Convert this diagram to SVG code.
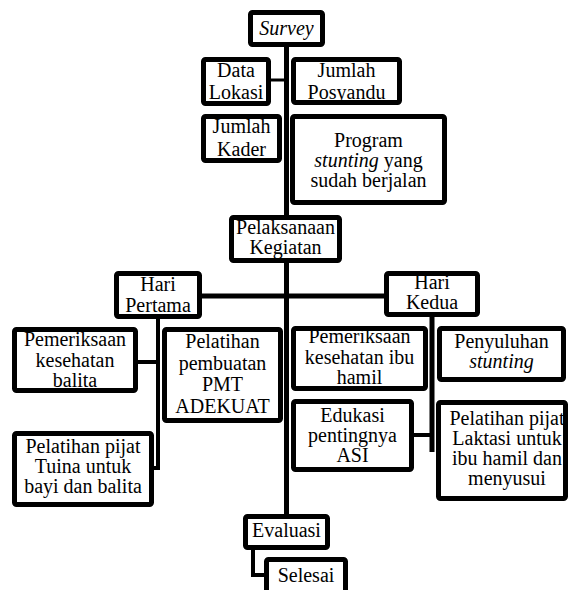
<svg xmlns="http://www.w3.org/2000/svg" width="568" height="590" viewBox="0 0 568 590">
<style>
.box{fill:#fff;stroke:#000;stroke-width:5;stroke-linejoin:round}
.c{fill:none;stroke:#000;stroke-linecap:butt}
text{font-family:"Liberation Serif","Times New Roman",serif;font-size:20px;fill:#000;text-anchor:middle}
.i{font-style:italic}
</style>
<rect width="568" height="590" fill="#fff"/>
<g id="connectors">
<line class="c" x1="286.5" y1="45" x2="286.5" y2="516" stroke-width="5"/>
<line class="c" x1="269" y1="80" x2="287" y2="80" stroke-width="3"/>
<line class="c" x1="200" y1="296" x2="386" y2="296" stroke-width="5"/>
<line class="c" x1="158" y1="317" x2="158" y2="470" stroke-width="4"/>
<line class="c" x1="136" y1="362" x2="158" y2="362" stroke-width="4"/>
<line class="c" x1="152" y1="468" x2="160" y2="468" stroke-width="4"/>
<line class="c" x1="432" y1="315" x2="432" y2="452" stroke-width="5"/>
<line class="c" x1="412" y1="435" x2="432" y2="435" stroke-width="4"/>
<polyline class="c" points="253,548 253,575 266,575" stroke-width="4"/>
</g>
<g id="survey"><rect class="box" x="250.5" y="12.5" width="72" height="32" rx="2"/><text class="i" x="286.5" y="35">Survey</text></g>
<g id="data-lokasi"><rect class="box" x="203.5" y="59.5" width="65" height="44" rx="2"/><text x="236" y="77">Data</text><text x="236" y="99">Lokasi</text></g>
<g id="jumlah-posyandu"><rect class="box" x="293.5" y="59.5" width="106" height="43" rx="2"/><text x="346.5" y="77">Jumlah</text><text x="346.5" y="99">Posyandu</text></g>
<g id="jumlah-kader"><rect class="box" x="203.5" y="116.5" width="76" height="44" rx="2"/><text x="241.5" y="133">Jumlah</text><text x="241.5" y="156">Kader</text></g>
<g id="program"><rect class="box" x="292.5" y="116.5" width="152" height="86" rx="2"/><text x="368.5" y="147">Program</text><text x="368.5" y="167"><tspan class="i">stunting</tspan> yang</text><text x="368.5" y="187">sudah berjalan</text></g>
<g id="pelaksanaan"><rect class="box" x="231.5" y="217.5" width="108" height="43" rx="2"/><text x="285.5" y="234">Pelaksanaan</text><text x="285.5" y="254">Kegiatan</text></g>
<g id="hari-pertama"><rect class="box" x="116.5" y="273.5" width="83" height="43" rx="2"/><text x="158" y="291">Hari</text><text x="158" y="312">Pertama</text></g>
<g id="hari-kedua"><rect class="box" x="386.5" y="273.5" width="91" height="41" rx="2"/><text x="432" y="289">Hari</text><text x="432" y="309">Kedua</text></g>
<g id="pemeriksaan-balita"><rect class="box" x="14.5" y="329.5" width="121" height="61" rx="2"/><text x="75" y="346">Pemeriksaan</text><text x="75" y="367">kesehatan</text><text x="75" y="387">balita</text></g>
<g id="pmt"><rect class="box" x="164.5" y="329.5" width="116" height="91" rx="2"/><text x="222.5" y="348">Pelatihan</text><text x="222.5" y="370">pembuatan</text><text x="222.5" y="391">PMT</text><text x="222.5" y="413">ADEKUAT</text></g>
<g id="tuina"><rect class="box" x="14.5" y="433.5" width="137" height="71" rx="2"/><text x="83" y="453">Pelatihan pijat</text><text x="83" y="473">Tuina untuk</text><text x="83" y="493">bayi dan balita</text></g>
<g id="pemeriksaan-ibu"><rect class="box" x="293.5" y="328.5" width="132" height="60" rx="2"/><text x="359.5" y="343">Pemeriksaan</text><text x="359.5" y="364">kesehatan ibu</text><text x="359.5" y="384">hamil</text></g>
<g id="penyuluhan"><rect class="box" x="439.5" y="328.5" width="124" height="51" rx="2"/><text x="501.5" y="348">Penyuluhan</text><text class="i" x="501.5" y="368">stunting</text></g>
<g id="edukasi"><rect class="box" x="293.5" y="401.5" width="118" height="68" rx="2"/><text x="352.5" y="422">Edukasi</text><text x="352.5" y="442">pentingnya</text><text x="352.5" y="462">ASI</text></g>
<g id="laktasi"><rect class="box" x="438.5" y="402.5" width="127" height="96" rx="2"/><text x="507" y="425">Pelatihan pijat</text><text x="507" y="445">Laktasi untuk</text><text x="507" y="465">ibu hamil dan</text><text x="507" y="485">menyusui</text></g>
<g id="evaluasi"><rect class="box" x="245.5" y="516.5" width="82" height="31" rx="2"/><text x="286.5" y="537">Evaluasi</text></g>
<g id="selesai"><rect class="box" x="266.5" y="559.5" width="79" height="34" rx="2"/><text x="306" y="582">Selesai</text></g>
</svg>
